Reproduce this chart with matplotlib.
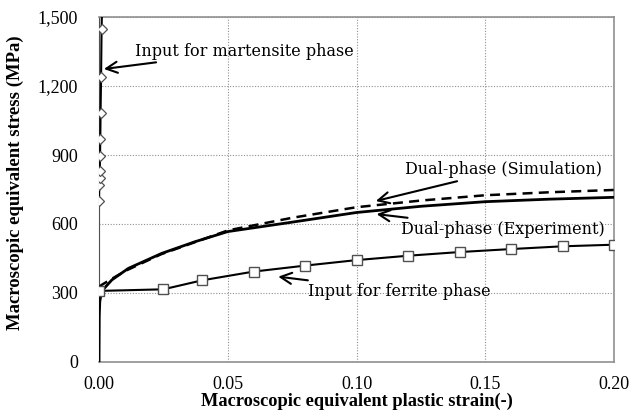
import matplotlib
matplotlib.use("Agg")
import matplotlib.pyplot as plt
from matplotlib.ticker import FuncFormatter

# Data
mart_strain = [0.0, 0.0001, 0.0002, 0.0003, 0.0004, 0.0005, 0.0006, 0.0008, 0.0010, 0.0012]
mart_stress = [700, 768, 801, 832, 896, 970, 1081, 1238, 1446, 1560]

ferr_strain = [0.0, 0.025, 0.04, 0.06, 0.08, 0.10, 0.12, 0.14, 0.16, 0.18, 0.20]
ferr_stress = [309, 316, 355, 393, 419, 443, 462, 478, 491, 503, 510]

exp_strain = [0.0, 0.0001, 0.0003, 0.0008, 0.002, 0.005, 0.0114, 0.0243, 0.0373,
              0.05, 0.075, 0.10, 0.125, 0.15, 0.175, 0.20]
exp_stress = [0, 200, 262, 295, 320, 357, 407, 472, 523, 567, 608, 650, 677, 697, 708, 716]

sim_strain = [0.0, 0.001, 0.005, 0.011, 0.024, 0.037, 0.05, 0.075, 0.10, 0.125, 0.15, 0.175, 0.20]
sim_stress = [325, 335, 362, 400, 468, 520, 572, 627, 673, 702, 725, 738, 748]

x_ticks = [0.00, 0.05, 0.10, 0.15, 0.20]
y_ticks = [0, 300, 600, 900, 1200, 1500]

fig = plt.figure(figsize=(6.4, 4.18), dpi=100)
ax = fig.add_axes([0.1547, 0.134, 0.9594 - 0.1547, 0.9593 - 0.134])

serif = ['Liberation Serif', 'DejaVu Serif']
ann_font = ['DejaVu Serif']

ax.plot(exp_strain, exp_stress, color='black', lw=2.0, zorder=3)
ax.plot(sim_strain, sim_stress, color='black', lw=1.8, ls=(0, (4, 2.5)), zorder=3)
ax.plot(ferr_strain, ferr_stress, color='black', lw=1.5, marker='s', markersize=7,
        markerfacecolor='white', markeredgecolor='#505050', markeredgewidth=1.0, zorder=4)
ax.plot(mart_strain, mart_stress, color='black', lw=1.5, marker='D', markersize=5,
        markerfacecolor='white', markeredgecolor='#505050', markeredgewidth=0.9,
        markevery=list(range(len(mart_strain) - 1)), zorder=4)

ax.set_xlim(0, 0.2)
ax.set_ylim(0, 1500)
ax.set_xticks(x_ticks)
ax.set_yticks(y_ticks)
ax.xaxis.set_major_formatter(FuncFormatter(lambda v, p: f"{v:.2f}"))
ax.yaxis.set_major_formatter(FuncFormatter(lambda v, p: f"{int(v):,}"))
ax.tick_params(axis='x', length=0, labelsize=13, pad=10)
ax.tick_params(axis='y', length=0, labelsize=13, pad=15)
for lab in ax.get_xticklabels() + ax.get_yticklabels():
    lab.set_fontfamily(serif)
ax.grid(True, color='#909090', ls=(0, (1, 1.5)), lw=0.8)
for s in ['top', 'right', 'bottom']:
    ax.spines[s].set_color('#909090')
    ax.spines[s].set_linewidth(1.2)
ax.spines['left'].set_color('#505050')

ax.set_xlabel('Macroscopic equivalent plastic strain(-)', fontfamily=serif,
              fontweight='bold', fontsize=13.2)
ax.xaxis.set_label_coords(0.5, -0.115)
ax.xaxis.label.set_va('center')
ax.set_ylabel('Macroscopic equivalent stress (MPa)', fontfamily=serif,
              fontweight='bold', fontsize=13.5)
ax.yaxis.set_label_coords(-0.145, 0.52)

ap = dict(arrowstyle='->', color='black', lw=1.5, mutation_scale=20, shrinkA=0, shrinkB=0)
fs = 11.5
ax.annotate('Input for martensite phase', xy=(0.0019, 1274), xytext=(0.0140, 1352),
            fontsize=fs, fontfamily=ann_font, va='center', ha='left', arrowprops=ap)
ax.annotate('Dual-phase (Simulation)', xy=(0.1075, 700), xytext=(0.1188, 835),
            fontsize=fs, fontfamily=ann_font, va='center', ha='left', arrowprops=ap)
ax.annotate('Dual-phase (Experiment)', xy=(0.1078, 643), xytext=(0.1172, 578),
            fontsize=fs, fontfamily=ann_font, va='center', ha='left', arrowprops=ap)
ax.annotate('Input for ferrite phase', xy=(0.0696, 371), xytext=(0.0810, 306),
            fontsize=fs, fontfamily=ann_font, va='center', ha='left', arrowprops=ap)

fig.savefig('out.png', dpi=100)
